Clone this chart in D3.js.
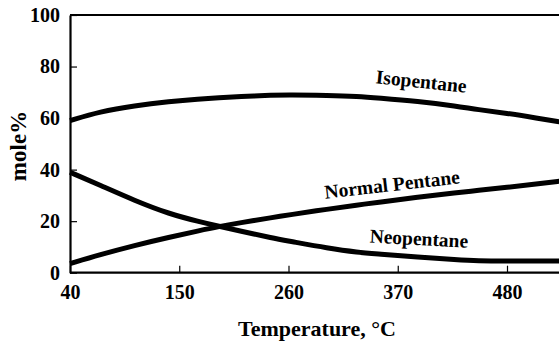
<!DOCTYPE html>
<html>
<head>
<meta charset="utf-8">
<script src="https://cdn.jsdelivr.net/npm/d3@7"></script>
<style>
  html, body { margin: 0; padding: 0; background: #fff; }
</style>
</head>
<body>
<svg id="chart" width="559" height="346"></svg>
<script>
// ---- data ----
const temperatures = [40, 70, 105, 140, 170, 190, 210, 245, 260, 300, 330, 350, 390, 430, 450, 480, 510, 535];
const isopentane   = [59, 62.5, 64.8, 66.4, 67.4, 67.9, 68.3, 68.9, 69.0, 68.8, 68.4, 67.8, 66.5, 64.6, 63.3, 61.9, 60.0, 58.4];
const normalPentane= [3.5, 7.0, 10.6, 13.8, 16.3, 17.9, 19.3, 21.5, 22.4, 24.7, 26.3, 27.3, 29.3, 31.1, 31.9, 33.1, 34.4, 35.6];
const neopentane   = [39, 34, 28, 22.8, 19.8, 18.0, 16.3, 13.3, 12.3, 9.5, 7.9, 7.3, 6.0, 5.0, 4.6, 4.5, 4.5, 4.5];
const xTicks = [40, 150, 260, 370, 480];
const yTicks = [0, 20, 40, 60, 80, 100];
const seriesNames = ["Isopentane", "Normal Pentane", "Neopentane"];
const xTitle = "Temperature, °C";
const yTitle = "mole%";

const FONT = "Liberation Serif";

// ---- scales ----
const svg = d3.select("#chart");
const x = d3.scaleLinear().domain([40, 480]).range([70, 507]);
const y = d3.scaleLinear().domain([0, 100]).range([272.7, 15]);
const xMax = 545;

// frame: top border
svg.append("line")
  .attr("x1", x(40)).attr("x2", x(xMax))
  .attr("y1", y(100)).attr("y2", y(100))
  .attr("stroke", "#000").attr("stroke-width", 2.2);

// axes
const xAxis = d3.axisBottom(x).tickValues(xTicks).tickSize(-7).tickPadding(12).tickSizeOuter(0);
const gx = svg.append("g").attr("transform", `translate(0,${y(0)})`).call(xAxis)
  .attr("font-family", FONT).attr("font-size", 20).attr("font-weight", "bold");
gx.select(".domain").attr("d", `M${x(40)},0H${x(xMax)}`).attr("stroke-width", 2.2);
gx.selectAll(".tick line").attr("stroke-width", 1.2);

const yAxis = d3.axisLeft(y).tickValues(yTicks).tickSize(-7).tickPadding(10).tickSizeOuter(0);
const gy = svg.append("g").attr("transform", `translate(${x(40)},0)`).call(yAxis)
  .attr("font-family", FONT).attr("font-size", 20).attr("font-weight", "bold");
gy.select(".domain").attr("stroke-width", 2.2);
gy.selectAll(".tick line").attr("stroke-width", 1.2);

// lines
const line = d3.line()
  .x((d, i) => x(temperatures[i]))
  .y(d => y(d))
  .curve(d3.curveBasis);

[isopentane, normalPentane, neopentane].forEach(s => {
  svg.append("path")
    .attr("d", line(s))
    .attr("fill", "none")
    .attr("stroke", "#000")
    .attr("stroke-width", 5)
    .attr("stroke-linecap", "butt");
});

// curve labels
const labelPos = [
  { t: 393, v: 71.7, rot: 6 },
  { t: 365, v: 31.7, rot: -6.5 },
  { t: 391, v: 10.7, rot: 3 }
];
seriesNames.forEach((name, i) => {
  const p = labelPos[i];
  svg.append("text")
    .attr("transform", `translate(${x(p.t)},${y(p.v)}) rotate(${p.rot})`)
    .attr("text-anchor", "middle")
    .attr("font-family", FONT).attr("font-weight", "bold")
    .attr("font-size", 19.5)
    .text(name);
});

// axis titles
svg.append("text")
  .attr("x", 317).attr("y", 336)
  .attr("text-anchor", "middle")
  .attr("font-family", FONT).attr("font-weight", "bold")
  .attr("font-size", 22)
  .text(xTitle);

svg.append("text")
  .attr("transform", "translate(26,146) rotate(-90)")
  .attr("text-anchor", "middle")
  .attr("font-family", FONT).attr("font-weight", "bold")
  .attr("font-size", 23)
  .text(yTitle);
</script>
</body>
</html>
